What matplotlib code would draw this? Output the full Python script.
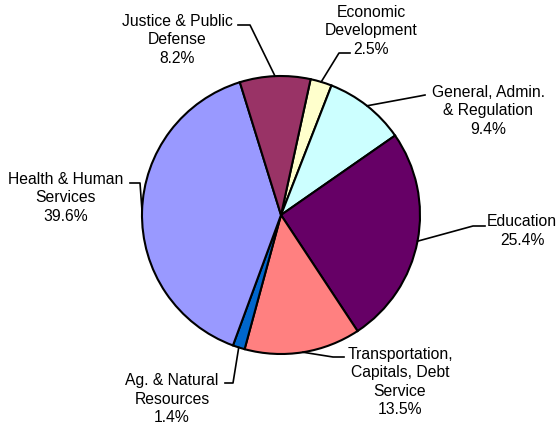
import numpy as np
import matplotlib
matplotlib.use('Agg')
import matplotlib.pyplot as plt

# Data (clockwise, starting just right of 12 o'clock)
categories = ['Economic\nDevelopment', 'General, Admin.\n& Regulation', 'Education',
              'Transportation,\nCapitals, Debt\nService', 'Ag. & Natural\nResources',
              'Health & Human\nServices', 'Justice & Public\nDefense']
shares = [2.5, 9.4, 25.4, 13.5, 1.4, 39.6, 8.2]
colors = ['#FFFFCC', '#CCFFFF', '#660066', '#FF8080', '#0066CC', '#9999FF', '#993366']

W, H = 559, 424
fig = plt.figure(figsize=(W / 100, H / 100), dpi=100)
ax = fig.add_axes([0, 0, 1, 1])
ax.set_xlim(0, W)
ax.set_ylim(0, H)
ax.set_aspect('equal')
ax.axis('off')

def px(x, y):
    return x, H - y

cx, cy = px(281, 215)
R = 139

wedges, _ = ax.pie(shares, colors=colors, startangle=77.7, counterclock=False,
                   center=(cx, cy), radius=R,
                   wedgeprops=dict(edgecolor='black', linewidth=1.5))
ax.set_xlim(0, W)
ax.set_ylim(0, H)

# label layout: (text centre, leader start, elbow) in pixel coords
layout = [
    ((371, 31), (350, 53), (339, 53)),
    ((488, 111), (425, 95), (420, 96)),
    ((522, 231), (485, 226), (473, 226)),
    ((400, 382), (344, 357), (333, 357)),
    ((172, 399), (225, 383), (233, 383)),
    ((66, 198), (130, 183), (140, 183)),
    ((177, 40), (238, 25), (250, 25)),
]

for w, cat, val, (tc, ls, el) in zip(wedges, categories, shares, layout):
    mid = np.deg2rad((w.theta1 + w.theta2) / 2)
    ex, ey = cx + R * np.cos(mid), cy + R * np.sin(mid)
    x0, y0 = px(*ls)
    x1, y1 = px(*el)
    ax.plot([x0, x1, ex], [y0, y1, ey], color='black', lw=1.2, zorder=3)
    tx, ty = px(*tc)
    ax.text(tx, ty, f'{cat}\n{val:.1f}%', ha='center', va='center',
            multialignment='center', fontsize=11.3, family='Liberation Sans',
            color='black', linespacing=1.3)

fig.savefig('out.png', dpi=100, facecolor='white')
